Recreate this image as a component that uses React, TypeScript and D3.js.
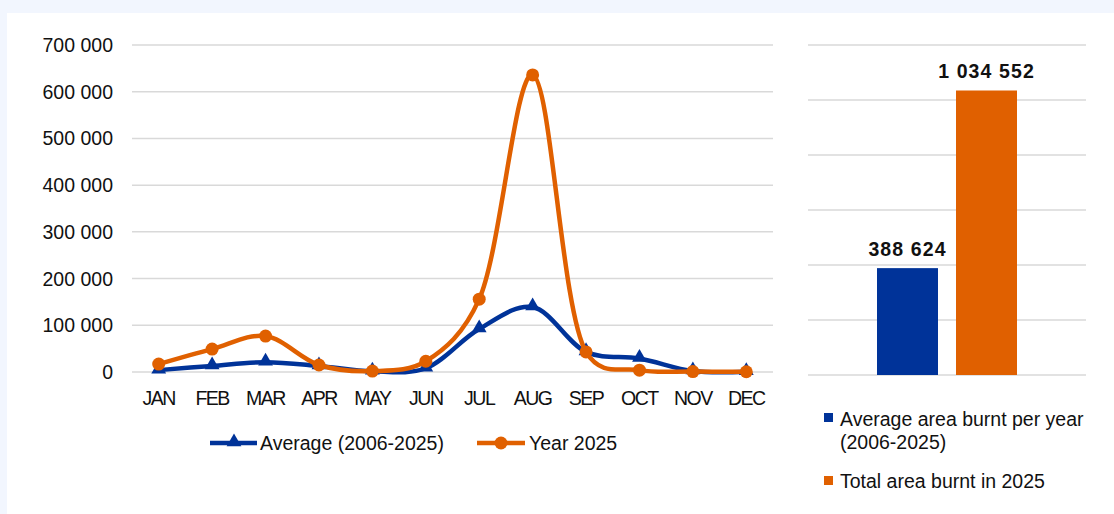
import React from "react";
import * as d3 from "d3";

const months = ["JAN","FEB","MAR","APR","MAY","JUN","JUL","AUG","SEP","OCT","NOV","DEC"];
const average = [4000, 13000, 21000, 13000, 1500, 8000, 92000, 139000, 43000, 29000, 2000, 500];
const year2025 = [17000, 49000, 77000, 15000, 2000, 23000, 156000, 636000, 43000, 4000, 1000, 500];
const yTicks = [0, 100000, 200000, 300000, 400000, 500000, 600000, 700000];
const barLabels = ["Average area burnt per year (2006-2025)", "Total area burnt in 2025"];
const barValues = [388624, 1034552];
const barTicks = [0, 200000, 400000, 600000, 800000, 1000000, 1200000];

const BLUE = "#003399";
const ORANGE = "#E06000";
const GRID = "#d9d9d9";
const FONT = "'Liberation Sans', Arial, sans-serif";

const fmt = (v: number) => d3.format(",")(v).replace(/,/g, " ");

export default function App() {
  const x = d3.scaleBand<string>().domain(months).range([132, 773]);
  const y = d3.scaleLinear().domain([0, 700000]).range([372, 45]);
  const cx = (m: string) => (x(m) as number) + x.bandwidth() / 2;

  const line = d3
    .line<number>()
    .x((_, i) => cx(months[i]))
    .y((d) => y(d))
    .curve(d3.curveCatmullRom.alpha(0.3));

  const xb = d3.scaleBand<number>().domain([0, 1]).range([877, 1017]).paddingInner(0.228).paddingOuter(0);
  const yb = d3.scaleLinear().domain([0, 1200000]).range([375, 45]);
  const barColors = [BLUE, ORANGE];

  const tri = d3.symbol().type(d3.symbolTriangle).size(95)() as string;

  return (
    <svg
      width={1114}
      height={514}
      style={{ position: "absolute", left: 0, top: 0, fontFamily: FONT }}
    >
      <rect x={0} y={0} width={1114} height={514} fill="#f2f6fe" />
      <rect x={7} y={13} width={1107} height={501} fill="#ffffff" />

      {/* left chart grid */}
      {yTicks.map((t) => (
        <g key={t}>
          <line x1={132} x2={773} y1={y(t)} y2={y(t)} stroke={GRID} strokeWidth={1.5} />
          <text x={113} y={y(t)} dy="0.36em" textAnchor="end" fontSize={19.5} fill="#111">
            {fmt(t)}
          </text>
        </g>
      ))}
      {months.map((m) => (
        <text key={m} x={cx(m)} y={405} textAnchor="middle" fontSize={19.5} letterSpacing={-1.5} fill="#111">
          {m}
        </text>
      ))}

      {/* lines */}
      <path d={line(average) as string} fill="none" stroke={BLUE} strokeWidth={4.5} strokeLinejoin="round" />
      {average.map((v, i) => (
        <path key={"a" + i} d={tri} transform={`translate(${cx(months[i])},${y(v) - 1})`} fill={BLUE} />
      ))}
      <path d={line(year2025) as string} fill="none" stroke={ORANGE} strokeWidth={4.5} strokeLinejoin="round" />
      {year2025.map((v, i) => (
        <circle key={"y" + i} cx={cx(months[i])} cy={y(v)} r={6.5} fill={ORANGE} />
      ))}

      {/* left legend */}
      <line x1={210} x2={257} y1={443} y2={443} stroke={BLUE} strokeWidth={4.5} />
      <path d={tri} transform="translate(234,442)" fill={BLUE} />
      <text x={260} y={443} dy="0.36em" fontSize={19.5} fill="#111">Average (2006-2025)</text>
      <line x1={477} x2={525} y1={443} y2={443} stroke={ORANGE} strokeWidth={4.5} />
      <circle cx={501} cy={443} r={6.5} fill={ORANGE} />
      <text x={529} y={443} dy="0.36em" fontSize={19.5} fill="#111">Year 2025</text>

      {/* right chart */}
      {barTicks.map((t) => (
        <line key={t} x1={808} x2={1086} y1={yb(t)} y2={yb(t)} stroke={GRID} strokeWidth={1.5} />
      ))}
      {barValues.map((v, i) => (
        <g key={i}>
          <rect
            x={xb(i) as number}
            y={yb(v)}
            width={xb.bandwidth()}
            height={yb(0) - yb(v)}
            fill={barColors[i]}
          />
          <text
            x={(xb(i) as number) + xb.bandwidth() / 2}
            y={yb(v) - 12}
            textAnchor="middle"
            fontSize={19.5}
            fontWeight="bold"
            letterSpacing={1.1}
            fill="#111"
          >
            {fmt(v)}
          </text>
        </g>
      ))}

      {/* right legend */}
      <rect x={824} y={413} width={9} height={9} fill={BLUE} />
      <text x={840} y={419} dy="0.36em" fontSize={19.5} fill="#111">Average area burnt per year</text>
      <text x={840} y={442} dy="0.36em" fontSize={19.5} fill="#111">(2006-2025)</text>
      <rect x={824} y={476} width={9} height={9} fill={ORANGE} />
      <text x={840} y={481} dy="0.36em" fontSize={19.5} fill="#111">{barLabels[1]}</text>
    </svg>
  );
}
